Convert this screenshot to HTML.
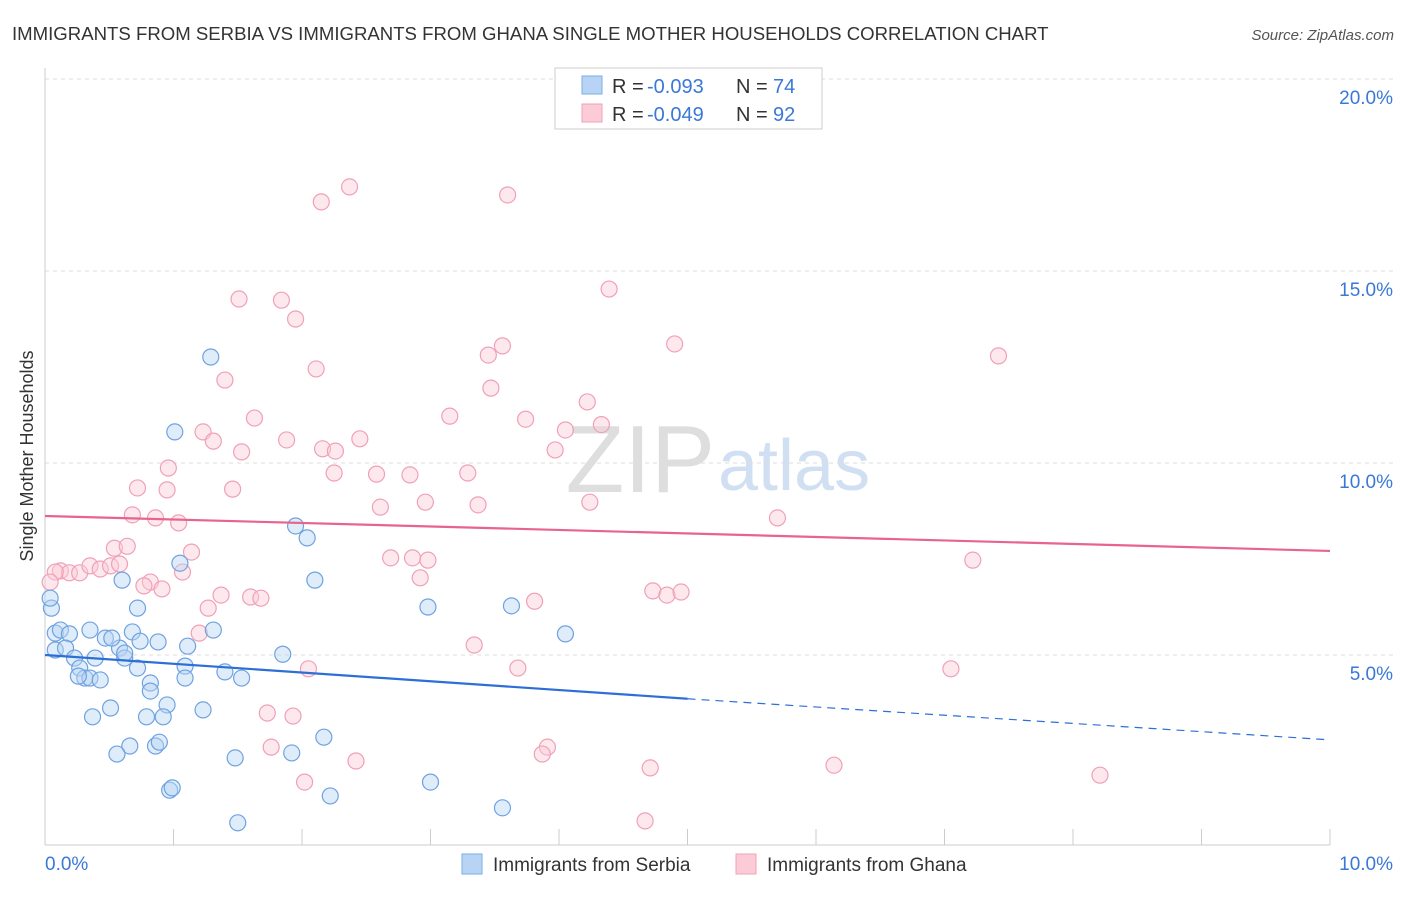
<!DOCTYPE html>
<html><head><meta charset="utf-8"><style>
body{margin:0;background:#fff;font-family:"Liberation Sans",sans-serif}
svg text{font-family:"Liberation Sans",sans-serif}
</style></head><body>
<svg id="c" width="1406" height="892">
<text x="12" y="40" font-size="18.6" fill="#333">IMMIGRANTS FROM SERBIA VS IMMIGRANTS FROM GHANA SINGLE MOTHER HOUSEHOLDS CORRELATION CHART</text>
<text x="1394" y="40" font-size="15" fill="#555" font-style="italic" text-anchor="end">Source: ZipAtlas.com</text>
<text x="33" y="456" font-size="18" fill="#333" text-anchor="middle" transform="rotate(-90 33 456)">Single Mother Households</text>
<text x="715" y="492" font-size="96" fill="#dedede" text-anchor="end" font-family="Liberation Serif">ZIP</text>
<text x="718" y="490" font-size="72" fill="#d0e0f2">atlas</text>
<g id="grid"></g><g id="pts"></g><g id="trend"></g>
<g>
<rect x="555" y="68" width="267" height="61" fill="#fff" stroke="#ccc"/>
<rect x="582" y="76" width="20" height="18" fill="#b8d4f4" stroke="#7aaee6"/>
<rect x="582" y="104" width="20" height="18" fill="#fbcbd8" stroke="#f0a0b8"/>
<text x="612" y="93" font-size="20" fill="#333">R =</text><text x="647" y="93" font-size="20" fill="#3a78d8">-0.093</text>
<text x="736" y="93" font-size="20" fill="#333">N =</text><text x="773" y="93" font-size="20" fill="#3a78d8">74</text>
<text x="612" y="121" font-size="20" fill="#333">R =</text><text x="647" y="121" font-size="20" fill="#3a78d8">-0.049</text>
<text x="736" y="121" font-size="20" fill="#333">N =</text><text x="773" y="121" font-size="20" fill="#3a78d8">92</text>
</g>
<g>
<rect x="462" y="854" width="20" height="20" fill="#b8d4f4" stroke="#7aaee6"/>
<text x="493" y="871" font-size="19" fill="#333">Immigrants from Serbia</text>
<rect x="736" y="854" width="20" height="20" fill="#fbcbd8" stroke="#f0a0b8"/>
<text x="767" y="871" font-size="19" fill="#333">Immigrants from Ghana</text>
</g>
</svg>
<script>
const xTicks=[0,10];
const yTicks=[5,10,15,20];
const serbiaX=[1.29,1.01,1.95,2.04,1.05,0.6,2.1,0.72,2.98,3.63,4.05,0.05,0.04,0.08,0.12,0.19,0.35,0.47,0.58,0.68,0.74,0.88,1.11,1.31,1.85,0.08,0.16,0.23,0.27,0.31,0.35,0.43,0.51,0.62,0.72,0.82,0.82,1.09,1.09,1.4,1.53,0.95,1.23,0.37,0.79,0.92,0.66,0.56,0.86,0.89,1.48,1.92,2.17,0.97,0.99,2.22,3.0,3.56,1.5,0.52,0.39,0.26,0.62];
const serbiaY=[12.76,10.81,8.36,8.05,7.39,6.95,6.95,6.22,6.25,6.28,5.55,6.22,6.48,5.57,5.65,5.55,5.65,5.44,5.18,5.6,5.36,5.34,5.23,5.65,5.02,5.13,5.18,4.92,4.66,4.4,4.4,4.35,3.62,4.92,4.66,4.27,4.06,4.71,4.4,4.56,4.4,3.7,3.57,3.39,3.39,3.39,2.63,2.42,2.63,2.73,2.32,2.45,2.86,1.48,1.54,1.33,1.69,1.02,0.63,5.44,4.92,4.45,5.05];
const ghanaX=[2.37,2.15,3.6,1.51,1.84,1.95,4.39,2.11,1.4,3.45,3.56,4.9,7.42,3.47,4.22,3.15,3.74,4.33,1.63,1.23,1.31,1.88,4.05,2.16,2.26,2.45,1.53,0.96,3.97,3.29,2.25,2.58,2.84,0.72,0.95,1.46,2.96,2.61,3.37,4.24,0.68,0.86,1.04,5.7,0.54,0.64,1.14,2.69,2.86,2.98,7.22,0.12,0.19,0.27,0.35,0.43,0.51,0.58,1.07,0.82,0.77,0.91,2.92,1.37,1.6,1.68,4.73,4.84,4.95,1.27,3.81,1.2,3.34,3.68,2.05,7.05,1.73,1.93,1.76,3.91,3.87,2.42,2.02,4.71,6.14,8.21,4.67,0.08,0.04];
const ghanaY=[17.19,16.8,16.98,14.27,14.24,13.75,14.53,12.45,12.16,12.81,13.05,13.1,12.79,11.95,11.59,11.22,11.14,11.0,11.17,10.81,10.57,10.6,10.86,10.37,10.31,10.63,10.29,9.87,10.34,9.74,9.74,9.71,9.69,9.35,9.3,9.32,8.98,8.85,8.91,8.98,8.65,8.57,8.44,8.57,7.78,7.83,7.68,7.53,7.53,7.47,7.47,7.19,7.14,7.14,7.32,7.24,7.32,7.37,7.16,6.9,6.8,6.72,7.01,6.56,6.51,6.48,6.67,6.56,6.64,6.22,6.4,5.57,5.26,4.66,4.64,4.64,3.49,3.41,2.6,2.6,2.42,2.24,1.69,2.06,2.13,1.87,0.68,7.16,6.9];
const serbiaTrend=[5.0,3.86,2.79];
const ghanaTrend=[8.62,7.71];
const X=v=>45+v/10*1285, Y=v=>847-v/20*768;
const NS='http://www.w3.org/2000/svg';
function mk(t,a,p){const e=document.createElementNS(NS,t);for(const k in a)e.setAttribute(k,a[k]);p.appendChild(e);return e;}
const g=document.getElementById('grid');
yTicks.forEach(v=>{const l=mk('line',{x1:45,x2:1394,y1:Y(v),y2:Y(v),stroke:'#ddd','stroke-dasharray':'4,4'},g);


const t=mk('text',{x:1393,y:Y(v)+25,'font-size':19,fill:'#3a78d8','text-anchor':'end'},g);t.textContent=v.toFixed(1)+'%';

});
mk('line',{x1:45,x2:45,y1:68,y2:845,stroke:'#ccc'},g);
mk('line',{x1:45,x2:1330,y1:845,y2:845,stroke:'#ccc'},g);
for(let i=0;i<=10;i++){const tk=mk('line',{x1:X(i),x2:X(i),y1:829,y2:845,stroke:'#ccc'},g);

}
xTicks.forEach((v,i)=>{const t=mk('text',{x:i?1393:45,y:870,'font-size':19,fill:'#3a78d8','text-anchor':i?'end':'start'},g);t.textContent=v.toFixed(1)+'%';

});
const p=document.getElementById('pts');
function draw(xs,ys,fill,stroke,name){xs.forEach((x,i)=>{const c=mk('circle',{cx:X(x),cy:Y(ys[i]),r:8,fill:fill,'fill-opacity':0.45,stroke:stroke,'stroke-width':1.2},p);

});}
draw(ghanaX,ghanaY,'#fbcbd8','#f0a0b8','ghana-point');
draw(serbiaX,serbiaY,'#b8d4f4','#6fa2e0','serbia-point');
const tr=document.getElementById('trend');
const b1=mk('line',{x1:X(0),y1:Y(serbiaTrend[0]),x2:X(5),y2:Y(serbiaTrend[1]),stroke:'#2d6fd6','stroke-width':2.2},tr);


const b2=mk('line',{x1:X(5),y1:Y(serbiaTrend[1]),x2:X(10),y2:Y(serbiaTrend[2]),stroke:'#2d6fd6','stroke-width':1.2,'stroke-dasharray':'8,6'},tr);


const pl=mk('line',{x1:X(0),y1:Y(ghanaTrend[0]),x2:X(10),y2:Y(ghanaTrend[1]),stroke:'#e8638f','stroke-width':2.2},tr);


</script>
</body></html>
